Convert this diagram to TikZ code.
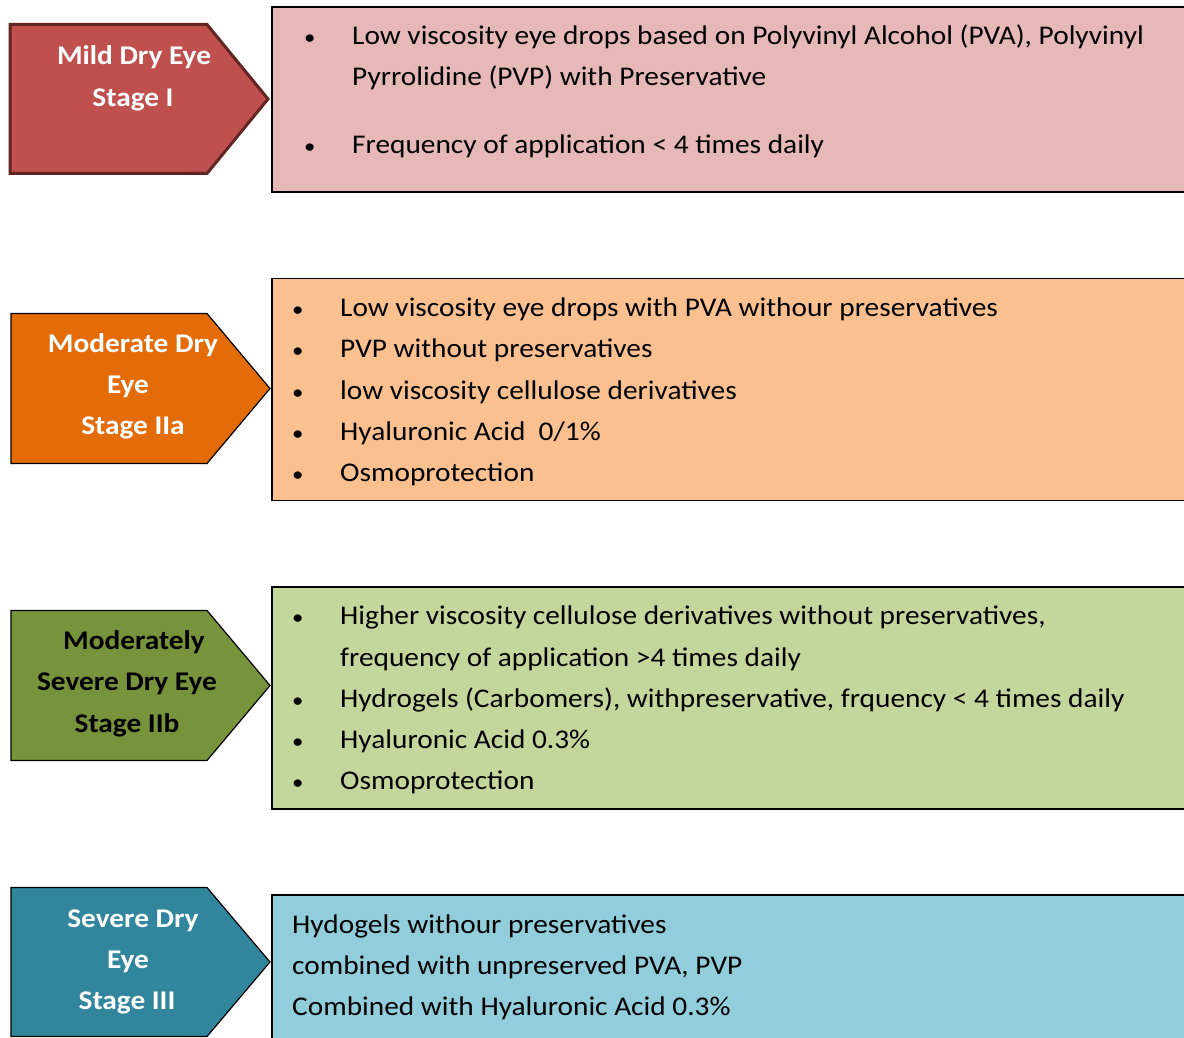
\documentclass[tikz,border=0pt]{standalone}
\usepackage{fontspec}
\setmainfont{Carlito}[FakeStretch=1.087]
\usetikzlibrary{positioning}

\definecolor{mildfill}{HTML}{C0504D}
\definecolor{mildline}{HTML}{632523}
\definecolor{mildbox}{HTML}{E6B8B7}
\definecolor{modfill}{HTML}{E36C09}
\definecolor{modbox}{HTML}{FAC090}
\definecolor{msevfill}{HTML}{77933C}
\definecolor{msevbox}{HTML}{C3D69B}
\definecolor{sevfill}{HTML}{31859C}
\definecolor{sevbox}{HTML}{92CDDC}

\begin{document}
\begin{tikzpicture}[x=1pt, y=-1pt,
    stagearrow/.style={draw=black, line width=1.2pt, line join=miter},
    infobox/.style={draw=black, line width=1.6pt, anchor=north west, inner sep=0pt, minimum width=960pt},
    stagelabel/.style={font=\fontsize{27}{32}\selectfont\bfseries, text=white, anchor=base, inner sep=0pt},
    itemtext/.style={font=\fontsize{27}{32}\selectfont, anchor=base west, inner sep=0pt},
    bulletdot/.style={itemtext, font=\fontsize{21}{24}\selectfont}]

    % page frame, cut on the right and at the bottom
    \useasboundingbox (0,0) rectangle (1184,1038);
    \clip (0,0) rectangle (1184,1038);

    % Stage I
    \node[infobox, fill=mildbox, minimum height=185pt] (info1) at (271,6) {};
    \draw[stagearrow, draw=mildline, line width=3pt, fill=mildfill]
        (10,24.5) -- (207,24.5) -- (268,99) -- (207,173.5) -- (10,173.5) -- cycle;
    \node[stagelabel] (lab11) at (134,65) {Mild Dry Eye};
    \node[stagelabel] (lab12) at (133,107) {Stage I};
    \node[bulletdot] (b11) at (304,45) {•};
    \node[itemtext] (t11) at (352,45) {Low viscosity eye drops based on Polyvinyl Alcohol (PVA), Polyvinyl};
    \node[itemtext] (t12) at (352,86) {Pyrrolidine (PVP) with Preservative};
    \node[bulletdot] (b12) at (304,154) {•};
    \node[itemtext] (t13) at (352,154) {Frequency of application < 4 times daily};

    % Stage IIa
    \node[infobox, fill=modbox, minimum height=222pt] (info2) at (271,277.5) {};
    \draw[stagearrow, fill=modfill]
        (11,313.5) -- (207,313.5) -- (270,388.5) -- (207,463.5) -- (11,463.5) -- cycle;
    \node[stagelabel] (lab21) at (133,352) {Moderate Dry};
    \node[stagelabel] (lab22) at (128,393) {Eye};
    \node[stagelabel] (lab23) at (133,434) {Stage IIa};
    \foreach \yy in {316,357,399,440,481}
        \node[bulletdot] at (292,\yy) {•};
    \node[itemtext] (t21) at (340,316) {Low viscosity eye drops with PVA withour preservatives};
    \node[itemtext] (t22) at (340,357) {PVP without preservatives};
    \node[itemtext] (t23) at (340,399) {low viscosity cellulose derivatives};
    \node[itemtext] (t24) at (340,440) {Hyaluronic Acid\ \ 0/1\%};
    \node[itemtext] (t25) at (340,481) {Osmoprotection};

    % Stage IIb
    \node[infobox, fill=msevbox, minimum height=222pt] (info3) at (271,586) {};
    \draw[stagearrow, fill=msevfill]
        (11,610.5) -- (207,610.5) -- (270,685.5) -- (207,760.5) -- (11,760.5) -- cycle;
    \node[stagelabel, text=black] (lab31) at (134,649) {Moderately};
    \node[stagelabel, text=black] (lab32) at (127,690) {Severe Dry Eye};
    \node[stagelabel, text=black] (lab33) at (127,732) {Stage IIb};
    \foreach \yy in {624,707,748,789}
        \node[bulletdot] at (292,\yy) {•};
    \node[itemtext] (t31) at (340,624) {Higher viscosity cellulose derivatives without preservatives,};
    \node[itemtext] (t32) at (340,666) {frequency of application >4 times daily};
    \node[itemtext] (t33) at (340,707) {Hydrogels (Carbomers), withpreservative, frquency < 4 times daily};
    \node[itemtext] (t34) at (340,748) {Hyaluronic Acid 0.3\%};
    \node[itemtext] (t35) at (340,789) {Osmoprotection};

    % Stage III
    \node[infobox, fill=sevbox, minimum height=180pt] (info4) at (271,894) {};
    \draw[stagearrow, fill=sevfill]
        (11,887.5) -- (207,887.5) -- (270,962) -- (207,1036.5) -- (11,1036.5) -- cycle;
    \node[stagelabel] (lab41) at (133,927) {Severe Dry};
    \node[stagelabel] (lab42) at (128,968) {Eye};
    \node[stagelabel] (lab43) at (127,1009) {Stage III};
    \node[itemtext] (t41) at (292,933) {Hydogels withour preservatives};
    \node[itemtext] (t42) at (292,974) {combined with unpreserved PVA, PVP};
    \node[itemtext] (t43) at (292,1015) {Combined with Hyaluronic Acid 0.3\%};
\end{tikzpicture}
\end{document}
